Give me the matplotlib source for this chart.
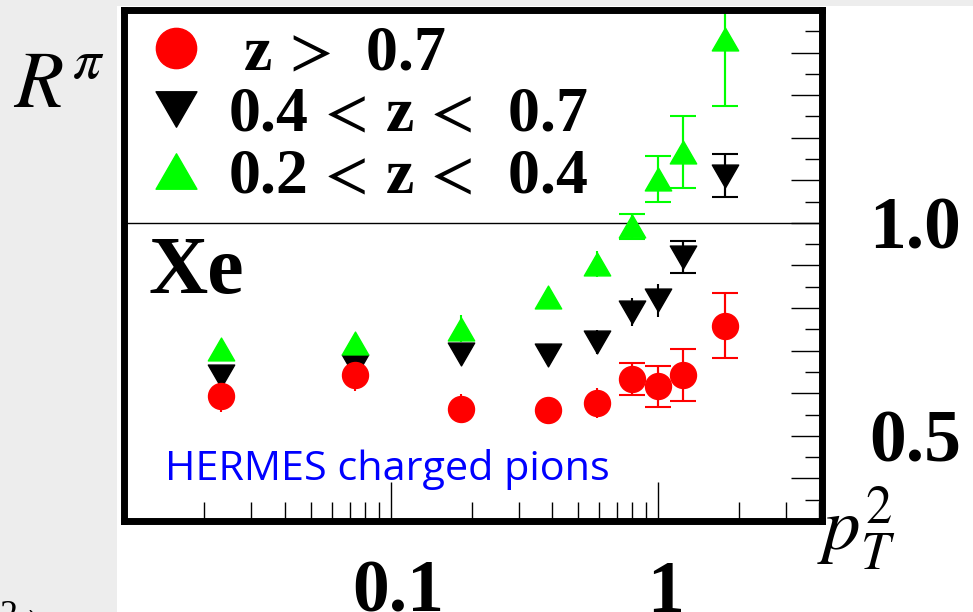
import numpy as np
import matplotlib.pyplot as plt
from matplotlib.path import Path
from matplotlib.patches import Rectangle
from matplotlib.ticker import FixedLocator, NullFormatter
from matplotlib.transforms import ScaledTranslation

# HERMES Xe multiplicity ratio R^pi vs pT^2, three z bins
pt2 = [0.0230, 0.0733, 0.182, 0.387, 0.589, 0.797, 1.00, 1.24, 1.77]

r_zhi = [0.593, 0.642, 0.564, 0.560, 0.578, 0.633, 0.616, 0.642, 0.759]
e_zhi = [0.038, 0.037, 0.034, 0.030, 0.035, 0.037, 0.048, 0.061, 0.077]
cap_zhi = [0, 0, 0, 0, 0, 1, 1, 1, 1]

r_zmid = [0.641, 0.665, 0.693, 0.690, 0.720, 0.790, 0.818, 0.920, 1.111]
e_zmid = [0.015, 0.015, 0.015, 0.015, 0.028, 0.033, 0.038, 0.038, 0.051]
cap_zmid = [0, 0, 0, 0, 0, 0, 0, 1, 1]

r_zlo = [0.705, 0.718, 0.752, 0.827, 0.904, 0.992, 1.103, 1.166, 1.433]
e_zlo_dn = [0.020, 0.020, 0.032, 0.020, 0.030, 0.029, 0.054, 0.084, 0.159]
e_zlo_up = [0.020, 0.020, 0.032, 0.020, 0.030, 0.029, 0.054, 0.084, 0.066]
cap_zlo = [0, 0, 0, 0, 0, 1, 1, 1, 1]

labels = [r" z$\,>\,$ 0.7", r"0.4$\,<\,$z$\,<\,$ 0.7", r"0.2$\,<\,$z$\,<\,$ 0.4"]
xticks = [0.1, 1]
xticklabels = ["0.1", "1"]
yticks = [0.3, 0.4, 0.5, 0.6, 0.7, 0.8, 0.9, 1.0, 1.1, 1.2, 1.3, 1.4, 1.5]
yticklabels = ["", "", "0.5", "", "", "", "", "1.0", "", "", "", "", ""]

serif_b = dict(family="Liberation Serif", weight="bold")
plt.rcParams["mathtext.fontset"] = "stix"

tri_up = Path([(-1, -0.866), (1, -0.866), (0, 0.866), (-1, -0.866)],
              [Path.MOVETO, Path.LINETO, Path.LINETO, Path.CLOSEPOLY])
tri_dn = Path([(-1, 0.866), (1, 0.866), (0, -0.866), (-1, 0.866)],
              [Path.MOVETO, Path.LINETO, Path.LINETO, Path.CLOSEPOLY])

fig = plt.figure(figsize=(9.73, 6.12), dpi=100)
fig.patch.set_facecolor("#ededed")
fig.add_artist(Rectangle((117 / 973, 0), 1, 1 - 6 / 612, transform=fig.transFigure,
                         facecolor="white", edgecolor="none", zorder=-10))

ax = fig.add_axes([124 / 973, 1 - 521 / 612, 698 / 973, 511 / 612])
ax.set_xscale("log")


def draw(y, dn, up, caps, color, marker, ms):
    x = np.array(pt2)
    y = np.array(y)
    err = np.array([dn, up])
    ax.errorbar(x, y, yerr=err, fmt="none", ecolor=color, elinewidth=1.5,
                capsize=0, zorder=2)
    m = np.array(caps, dtype=bool)
    ax.errorbar(x[m], y[m], yerr=err[:, m], fmt="none", ecolor=color,
                elinewidth=1.5, capsize=9.7, capthick=1.5, zorder=2)
    line, = ax.plot(x, y, ls="none", marker=marker, ms=ms, color=color,
                    mec=color, zorder=3)
    return line


l_mid = draw(r_zmid, e_zmid, e_zmid, cap_zmid, "black", tri_dn, 19)
l_lo = draw(r_zlo, e_zlo_dn, e_zlo_up, cap_zlo, "#00ff00", tri_up, 19)
l_hi = draw(r_zhi, e_zhi, e_zhi, cap_zhi, "red", "o", 18.7)

ax.axhline(1.0, color="black", lw=1.0, zorder=1)

ax.set_xlim(0.01, 4.1)
ax.set_ylim(0.3, 1.5)

ax.set_xticks(xticks, xticklabels)
ax.xaxis.set_minor_locator(FixedLocator(
    [m * d for d in (0.01, 0.1, 1) for m in range(2, 10)]))
ax.xaxis.set_minor_formatter(NullFormatter())
ax.yaxis.tick_right()
ax.set_yticks(yticks, yticklabels)
ax.yaxis.set_minor_locator(FixedLocator(np.array(yticks[:-1]) + 0.05))

ax.tick_params(axis="x", which="major", direction="in", length=28, width=1,
               pad=28, labelsize=53)
ax.tick_params(axis="x", which="minor", direction="in", length=14, width=1)
ax.tick_params(axis="y", which="major", direction="in", length=22, width=1,
               pad=34, labelsize=53)
ax.tick_params(axis="y", which="minor", direction="in", length=12, width=1)
shift = ScaledTranslation(0.07, 0, fig.dpi_scale_trans)
for lab in ax.get_xticklabels():
    lab.set_transform(lab.get_transform() + shift)
for lab in ax.get_xticklabels() + ax.get_yticklabels():
    lab.set_fontfamily("Liberation Serif")
    lab.set_fontweight("bold")
for s in ax.spines.values():
    s.set_linewidth(5)

leg = ax.legend([l_hi, l_mid, l_lo], labels, loc="upper left",
                bbox_to_anchor=(0.038, 0.970), frameon=False,
                prop=dict(size=46, **serif_b), markerscale=1.55,
                handlelength=0.8, handletextpad=0.41, labelspacing=0.045,
                borderpad=0, borderaxespad=0)

ax.text(0.0344, 0.4456, "Xe", transform=ax.transAxes, fontsize=59,
        va="baseline", **serif_b)
ax.text(0.0587, 0.0802, "HERMES charged pions", transform=ax.transAxes,
        fontsize=29.8, family="Open Sans", color="#0000ff", va="baseline")

fig.text(13 / 973, 1 - 107 / 612, r"$R^{\pi}$", fontsize=58, va="baseline")
fig.text(817 / 973, 1 - 550 / 612, r"$p_T^2$", fontsize=54, va="baseline")
fig.text(0.0, 1 - 600 / 612, "2 \u203a", fontsize=26, va="top",
         family="Liberation Serif")

fig.savefig("out.png", dpi=100, facecolor=fig.get_facecolor())
